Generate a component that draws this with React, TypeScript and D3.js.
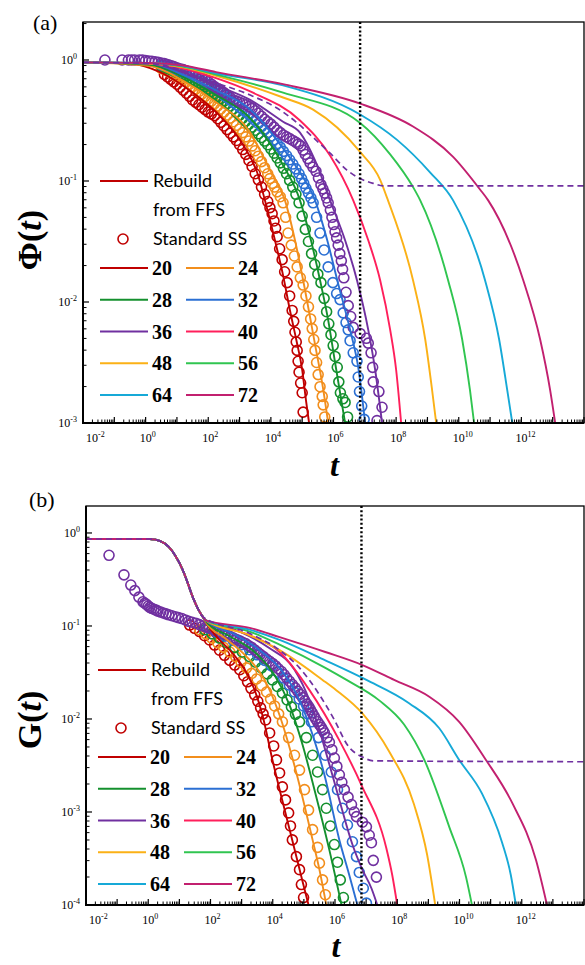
import React from "react";
import * as d3 from "d3";

// every point is [log10 t, log10 value]
type Pt = [number, number];

const SIZES = ["20", "24", "28", "32", "36", "40", "48", "56", "64", "72"];
const COLORS = ["#c00000", "#f28e1c", "#14902e", "#2b6fd3", "#7030a0", "#ff1f5b", "#fbb116", "#30c550", "#16a9d7", "#c2206f"];
const T_MARK = 6.85; // dotted vertical line, log10 t

// ---- panel (a): Phi(t), rebuilt from FFS ----
const phi20: Pt[] = [[-2, -0.02], [-0.5, -0.03], [0.46, -0.1], [1.51, -0.27], [2.25, -0.43], [3.11, -0.7], [3.59, -0.95], [3.81, -1.16], [4.13, -1.49], [4.39, -1.78], [4.61, -2.07], [4.81, -2.31], [5.0, -2.56], [5.12, -2.81], [5.22, -3.0]];
const phi24: Pt[] = [[-2, -0.02], [0.14, -0.05], [1.19, -0.17], [2.25, -0.35], [3.34, -0.6], [3.97, -0.91], [4.45, -1.16], [4.77, -1.49], [5.03, -1.82], [5.41, -2.35], [5.67, -2.72], [5.83, -3.0]];
const phi28: Pt[] = [[-2, -0.02], [0.14, -0.04], [1.19, -0.14], [2.25, -0.29], [3.34, -0.48], [4.39, -0.87], [4.93, -1.16], [5.28, -1.49], [5.57, -1.82], [5.83, -2.15], [6.05, -2.5], [6.21, -2.75], [6.37, -3.0]];
const phi32: Pt[] = [[-2, -0.02], [0.14, -0.03], [1.19, -0.12], [2.25, -0.25], [3.34, -0.41], [4.39, -0.73], [4.93, -0.93], [5.41, -1.16], [5.8, -1.49], [6.12, -1.82], [6.53, -2.23], [6.79, -2.54], [7.01, -3.0]];
const phi36: Pt[] = [[-2, -0.02], [0.14, -0.03], [1.19, -0.1], [2.25, -0.21], [3.34, -0.33], [4.39, -0.51], [4.93, -0.6], [5.41, -0.83], [5.89, -1.16], [6.37, -1.49], [6.75, -1.82], [7.11, -2.23], [7.33, -2.56], [7.55, -3.0]];
const phi40: Pt[] = [[-2, -0.02], [0.14, -0.03], [1.19, -0.07], [2.25, -0.15], [3.34, -0.26], [4.93, -0.5], [5.89, -0.79], [6.63, -1.16], [7.11, -1.49], [7.49, -1.82], [7.81, -2.23], [8.0, -2.56], [8.16, -3.0]];
const phi48: Pt[] = [[-2, -0.02], [0.14, -0.03], [1.19, -0.06], [2.25, -0.13], [4.39, -0.31], [5.35, -0.41], [6.85, -0.76], [7.49, -0.99], [7.74, -1.16], [8.54, -1.82], [8.93, -2.31], [9.15, -2.73], [9.28, -3.0]];
const phi56: Pt[] = [[-2, -0.02], [0.14, -0.025], [1.19, -0.055], [2.25, -0.12], [4.39, -0.27], [6.85, -0.52], [7.81, -0.78], [8.54, -1.05], [8.77, -1.16], [9.66, -1.82], [10.11, -2.31], [10.36, -2.73], [10.49, -3.0]];
const phi64: Pt[] = [[-2, -0.02], [0.14, -0.025], [1.19, -0.05], [2.25, -0.11], [4.39, -0.21], [6.85, -0.45], [8.03, -0.66], [9.09, -0.93], [9.82, -1.16], [10.84, -1.82], [11.29, -2.31], [11.55, -2.73], [11.71, -3.0]];
const phi72: Pt[] = [[-2, -0.02], [0.14, -0.025], [1.19, -0.045], [2.25, -0.1], [4.39, -0.2], [6.85, -0.36], [8.54, -0.55], [9.82, -0.8], [10.68, -1.07], [10.94, -1.16], [12.06, -1.82], [12.6, -2.31], [12.92, -2.73], [13.08, -3.0]];
const phiDashed: Pt[] = [[-2, -0.02], [0.14, -0.03], [2.25, -0.19], [3.34, -0.29], [4.39, -0.43], [4.84, -0.52], [5.35, -0.64], [5.89, -0.77], [6.43, -0.91], [6.85, -0.98], [7.27, -1.02], [7.58, -1.04], [14, -1.04]];

// ---- panel (a): standard SS (open circles) ----
const phiSS20: Pt[] = [[0.6, -0.12], [0.7, -0.14], [0.8, -0.16], [0.9, -0.18], [1.0, -0.2], [1.1, -0.225], [1.2, -0.25], [1.3, -0.275], [1.4, -0.3], [1.5, -0.33], [1.6, -0.35], [1.7, -0.37], [1.8, -0.39], [1.9, -0.41], [2.0, -0.43], [2.1, -0.445], [2.2, -0.46], [2.3, -0.485], [2.4, -0.515], [2.5, -0.545], [2.6, -0.575], [2.7, -0.605], [2.8, -0.635], [2.9, -0.665], [3.0, -0.7], [3.1, -0.74], [3.2, -0.78], [3.3, -0.83], [3.4, -0.88], [3.5, -0.94], [3.6, -0.99], [3.7, -1.05], [3.8, -1.11], [3.9, -1.17], [3.97, -1.22], [4.04, -1.27], [4.1, -1.33], [4.15, -1.39], [4.2, -1.46], [4.28, -1.56], [4.36, -1.65], [4.44, -1.75], [4.52, -1.84], [4.6, -1.95], [4.68, -2.07], [4.73, -2.16], [4.77, -2.25], [4.81, -2.33], [4.84, -2.4], [4.87, -2.49], [4.9, -2.58], [4.95, -2.67], [5.0, -2.75], [5.03, -2.91]];
const phiSS24: Pt[] = [[0.5, -0.07], [0.6, -0.08], [0.7, -0.09], [0.8, -0.105], [0.9, -0.12], [1.0, -0.135], [1.1, -0.15], [1.2, -0.165], [1.3, -0.18], [1.4, -0.2], [1.5, -0.22], [1.6, -0.24], [1.7, -0.26], [1.8, -0.28], [1.9, -0.3], [2.0, -0.32], [2.1, -0.34], [2.2, -0.36], [2.3, -0.38], [2.4, -0.405], [2.5, -0.43], [2.6, -0.455], [2.7, -0.48], [2.8, -0.51], [2.9, -0.54], [3.0, -0.57], [3.1, -0.6], [3.2, -0.635], [3.3, -0.67], [3.4, -0.71], [3.5, -0.75], [3.6, -0.795], [3.7, -0.84], [3.8, -0.89], [3.9, -0.94], [3.97, -0.98], [4.05, -1.02], [4.12, -1.05], [4.2, -1.09], [4.3, -1.13], [4.39, -1.18], [4.47, -1.3], [4.55, -1.43], [4.65, -1.53], [4.75, -1.62], [4.84, -1.71], [4.94, -1.8], [5.03, -1.86], [5.12, -1.95], [5.2, -2.04], [5.27, -2.14], [5.32, -2.22], [5.37, -2.31], [5.41, -2.4], [5.46, -2.5], [5.51, -2.6], [5.57, -2.7], [5.64, -2.78], [5.67, -2.85], [5.72, -2.95]];
const phiSS28: Pt[] = [[0.5, -0.05], [0.6, -0.06], [0.7, -0.07], [0.8, -0.08], [0.9, -0.09], [1.0, -0.1], [1.1, -0.11], [1.2, -0.12], [1.3, -0.13], [1.4, -0.145], [1.5, -0.16], [1.6, -0.175], [1.7, -0.19], [1.8, -0.205], [1.9, -0.22], [2.0, -0.24], [2.1, -0.26], [2.2, -0.28], [2.3, -0.3], [2.4, -0.32], [2.5, -0.34], [2.6, -0.36], [2.7, -0.38], [2.8, -0.405], [2.9, -0.43], [3.0, -0.455], [3.1, -0.48], [3.2, -0.505], [3.3, -0.53], [3.4, -0.555], [3.5, -0.58], [3.6, -0.61], [3.7, -0.64], [3.8, -0.67], [3.9, -0.7], [4.0, -0.735], [4.1, -0.77], [4.2, -0.81], [4.3, -0.85], [4.4, -0.895], [4.5, -0.94], [4.6, -0.995], [4.7, -1.05], [4.8, -1.11], [4.9, -1.18], [5.0, -1.29], [5.1, -1.4], [5.2, -1.5], [5.3, -1.6], [5.4, -1.69], [5.5, -1.77], [5.6, -1.84], [5.7, -1.97], [5.78, -2.08], [5.85, -2.18], [5.92, -2.27], [5.99, -2.36], [6.05, -2.45], [6.12, -2.54], [6.17, -2.66], [6.22, -2.75], [6.3, -2.8], [6.37, -2.83], [6.45, -2.95]];
const phiSS32: Pt[] = [[0.5, -0.04], [0.6, -0.045], [0.7, -0.05], [0.8, -0.06], [0.9, -0.07], [1.0, -0.08], [1.1, -0.09], [1.2, -0.1], [1.3, -0.11], [1.4, -0.12], [1.5, -0.13], [1.6, -0.145], [1.7, -0.16], [1.8, -0.175], [1.9, -0.19], [2.0, -0.205], [2.1, -0.22], [2.2, -0.235], [2.3, -0.25], [2.4, -0.27], [2.5, -0.29], [2.6, -0.31], [2.7, -0.33], [2.8, -0.35], [2.9, -0.37], [3.0, -0.39], [3.1, -0.41], [3.2, -0.43], [3.3, -0.45], [3.4, -0.475], [3.5, -0.5], [3.6, -0.525], [3.7, -0.55], [3.8, -0.575], [3.9, -0.6], [4.0, -0.63], [4.1, -0.66], [4.2, -0.69], [4.3, -0.72], [4.4, -0.755], [4.5, -0.79], [4.6, -0.825], [4.7, -0.86], [4.8, -0.9], [4.9, -0.94], [4.98, -0.98], [5.05, -1.02], [5.12, -1.06], [5.2, -1.1], [5.28, -1.14], [5.35, -1.18], [5.46, -1.3], [5.57, -1.43], [5.7, -1.57], [5.83, -1.71], [5.98, -1.84], [6.1, -1.93], [6.21, -1.98], [6.31, -2.09], [6.4, -2.17], [6.47, -2.23], [6.53, -2.32], [6.63, -2.42], [6.75, -2.49], [6.79, -2.62], [6.83, -2.74], [6.9, -2.86], [6.98, -2.97]];
const phiSS36: Pt[] = [[-1.3, 0], [-0.75, 0], [-0.55, 0], [-0.45, 0], [-0.35, 0], [-0.2, 0], [-0.1, 0], [0, -0.005], [0.1, -0.008], [0.2, -0.01], [0.3, -0.015], [0.4, -0.02], [0.5, -0.025], [0.6, -0.03], [0.7, -0.037], [0.8, -0.045], [0.9, -0.055], [1.0, -0.065], [1.1, -0.072], [1.2, -0.08], [1.3, -0.09], [1.4, -0.1], [1.5, -0.11], [1.6, -0.12], [1.7, -0.135], [1.8, -0.15], [1.9, -0.165], [2.0, -0.18], [2.1, -0.2], [2.2, -0.22], [2.3, -0.235], [2.4, -0.25], [2.5, -0.27], [2.6, -0.29], [2.7, -0.31], [2.8, -0.33], [2.9, -0.34], [3.0, -0.35], [3.1, -0.36], [3.2, -0.37], [3.3, -0.385], [3.4, -0.4], [3.5, -0.42], [3.6, -0.44], [3.7, -0.465], [3.8, -0.49], [3.9, -0.51], [4.0, -0.53], [4.1, -0.555], [4.2, -0.58], [4.3, -0.6], [4.4, -0.62], [4.5, -0.635], [4.6, -0.65], [4.7, -0.665], [4.8, -0.68], [4.88, -0.695], [4.95, -0.71], [5.03, -0.745], [5.1, -0.78], [5.18, -0.815], [5.25, -0.85], [5.34, -0.885], [5.44, -0.92], [5.52, -0.975], [5.6, -1.03], [5.66, -1.065], [5.72, -1.1], [5.78, -1.14], [5.83, -1.18], [5.9, -1.24], [5.95, -1.3], [6.0, -1.36], [6.05, -1.42], [6.1, -1.47], [6.15, -1.53], [6.2, -1.6], [6.25, -1.66], [6.29, -1.73], [6.33, -1.8], [6.4, -1.92], [6.47, -2.03], [6.55, -2.12], [6.63, -2.21], [6.85, -2.26], [7.05, -2.3], [7.11, -2.34], [7.2, -2.42], [7.25, -2.54], [7.27, -2.66], [7.45, -2.74], [7.55, -2.87], [7.39, -2.98]];

// ---- panel (b): G(t), rebuilt from FFS (all sizes share the early drop) ----
const gEarly: Pt[] = [[-2, -0.065], [0.05, -0.065], [0.37, -0.086], [0.66, -0.15], [0.88, -0.25], [1.11, -0.4], [1.27, -0.54], [1.43, -0.69], [1.59, -0.81], [1.75, -0.9]];
const g20: Pt[] = [[1.97, -1.02], [2.29, -1.15], [2.62, -1.26], [3.1, -1.47], [3.42, -1.69], [3.67, -1.96], [3.99, -2.44], [4.31, -2.88], [4.7, -3.4], [4.96, -3.75], [5.15, -4.0]];
const g24: Pt[] = [[1.85, -0.96], [2.46, -1.13], [3.1, -1.31], [3.74, -1.58], [4.22, -1.96], [4.76, -2.58], [5.28, -3.3], [5.5, -3.62], [5.72, -4.0]];
const g28: Pt[] = [[1.85, -0.95], [2.62, -1.11], [3.42, -1.28], [4.06, -1.53], [4.54, -1.85], [4.96, -2.28], [5.34, -2.76], [5.82, -3.41], [6.21, -4.0]];
const g32: Pt[] = [[1.85, -0.94], [2.78, -1.09], [3.58, -1.26], [4.31, -1.49], [4.86, -1.8], [5.28, -2.17], [5.66, -2.6], [6.14, -3.3], [6.46, -3.68], [6.72, -4.0]];
const g36: Pt[] = [[1.85, -0.94], [2.94, -1.06], [3.9, -1.24], [4.7, -1.47], [5.18, -1.8], [5.5, -2.12], [5.82, -2.49], [6.14, -2.87], [6.56, -3.35], [6.88, -3.62], [7.17, -3.82], [7.36, -4.0]];
const g40: Pt[] = [[1.85, -0.94], [2.5, -1.02], [3.26, -1.1], [4.22, -1.28], [5.18, -1.69], [6.14, -2.23], [6.85, -2.71], [7.65, -3.39], [7.84, -3.68], [8.0, -4.0]];
const g48: Pt[] = [[1.85, -0.94], [3.26, -1.1], [4.22, -1.26], [5.6, -1.58], [6.04, -1.69], [6.88, -1.94], [7.74, -2.35], [8.54, -2.92], [8.96, -3.46], [9.22, -4.0]];
const g56: Pt[] = [[1.85, -0.94], [3.26, -1.06], [4.22, -1.2], [5.69, -1.45], [6.37, -1.58], [7.42, -1.8], [8.22, -2.06], [8.87, -2.44], [9.67, -3.16], [10.21, -3.7], [10.4, -4.0]];
const g64: Pt[] = [[1.85, -0.94], [3.26, -1.04], [4.22, -1.15], [5.69, -1.37], [7.01, -1.58], [8.38, -1.83], [9.35, -2.1], [9.99, -2.44], [10.72, -2.8], [11.37, -3.33], [11.65, -3.68], [11.81, -4.0]];
const g72: Pt[] = [[1.85, -0.94], [3.26, -1.02], [4.22, -1.12], [5.69, -1.28], [6.88, -1.42], [7.9, -1.58], [9.03, -1.76], [9.99, -2.03], [10.85, -2.44], [11.69, -2.9], [12.46, -3.52], [12.81, -4.0]];
const gDashedTail: Pt[] = [[3.26, -1.08], [4.22, -1.26], [4.86, -1.45], [5.5, -1.74], [5.98, -2.01], [6.4, -2.28], [6.88, -2.41], [7.26, -2.45], [14, -2.46]];

// ---- panel (b): standard SS ----
const gSS20: Pt[] = [[1.33, -0.99], [1.49, -1.025], [1.65, -1.06], [1.81, -1.105], [1.97, -1.15], [2.13, -1.205], [2.29, -1.26], [2.45, -1.315], [2.62, -1.37], [2.78, -1.42], [2.94, -1.47], [3.07, -1.535], [3.19, -1.6], [3.3, -1.67], [3.42, -1.74], [3.52, -1.81], [3.61, -1.88], [3.69, -1.945], [3.77, -2.01], [3.9, -2.15], [4.03, -2.29], [4.12, -2.44], [4.22, -2.58], [4.31, -2.73], [4.41, -2.87], [4.51, -3.01], [4.57, -3.15], [4.63, -3.3], [4.76, -3.48], [4.86, -3.62], [4.92, -3.78], [4.99, -3.92]];
const gSS24: Pt[] = [[1.65, -1.04], [1.85, -1.085], [2.04, -1.13], [2.23, -1.18], [2.42, -1.23], [2.62, -1.28], [2.81, -1.33], [2.98, -1.39], [3.16, -1.45], [3.32, -1.51], [3.48, -1.57], [3.64, -1.64], [3.8, -1.71], [3.93, -1.785], [4.06, -1.86], [4.19, -1.945], [4.31, -2.03], [4.51, -2.2], [4.7, -2.39], [4.86, -2.55], [5.02, -2.76], [5.15, -2.98], [5.28, -3.19], [5.44, -3.38], [5.5, -3.55], [5.6, -3.73], [5.69, -3.89]];
const gSS28: Pt[] = [[1.81, -1.04], [2.05, -1.085], [2.29, -1.13], [2.53, -1.18], [2.78, -1.23], [3.02, -1.28], [3.26, -1.33], [3.45, -1.39], [3.64, -1.45], [3.82, -1.515], [3.99, -1.58], [4.15, -1.65], [4.31, -1.72], [4.46, -1.795], [4.6, -1.87], [4.73, -1.95], [4.86, -2.03], [5.08, -2.2], [5.28, -2.39], [5.44, -2.57], [5.6, -2.76], [5.72, -2.96], [5.85, -3.15], [5.98, -3.35], [6.08, -3.54], [6.17, -3.73], [6.27, -3.92]];
const gSS32: Pt[] = [[1.91, -1.02], [2.18, -1.065], [2.46, -1.11], [2.73, -1.155], [3.0, -1.2], [3.26, -1.255], [3.51, -1.31], [3.74, -1.37], [3.96, -1.43], [4.16, -1.495], [4.35, -1.56], [4.53, -1.635], [4.7, -1.71], [4.85, -1.785], [4.99, -1.86], [5.12, -1.945], [5.24, -2.03], [5.47, -2.2], [5.69, -2.39], [5.88, -2.57], [6.08, -2.76], [6.24, -2.96], [6.4, -3.14], [6.56, -3.32], [6.69, -3.48], [6.78, -3.65], [6.91, -3.82], [7.01, -3.98]];
const gSS36: Pt[] = [[-1.26, -0.24], [-0.78, -0.45], [-0.56, -0.56], [-0.43, -0.62], [-0.3, -0.69], [-0.17, -0.74], [-0.11, -0.755], [-0.05, -0.77], [0.0, -0.785], [0.05, -0.8], [0.11, -0.81], [0.18, -0.82], [0.25, -0.83], [0.31, -0.84], [0.4, -0.85], [0.48, -0.86], [0.57, -0.87], [0.66, -0.88], [0.76, -0.89], [0.87, -0.9], [0.97, -0.91], [1.08, -0.92], [1.19, -0.935], [1.3, -0.95], [1.41, -0.96], [1.53, -0.97], [1.64, -0.985], [1.75, -1.0], [1.86, -1.01], [1.97, -1.02], [2.06, -1.035], [2.16, -1.05], [2.26, -1.065], [2.36, -1.08], [2.45, -1.09], [2.55, -1.1], [2.64, -1.115], [2.74, -1.13], [2.84, -1.145], [2.94, -1.16], [3.03, -1.175], [3.13, -1.19], [3.22, -1.21], [3.32, -1.23], [3.41, -1.255], [3.51, -1.28], [3.6, -1.305], [3.7, -1.33], [3.8, -1.355], [3.9, -1.38], [4.0, -1.405], [4.09, -1.43], [4.18, -1.46], [4.28, -1.49], [4.37, -1.525], [4.45, -1.56], [4.54, -1.595], [4.63, -1.63], [4.72, -1.665], [4.8, -1.7], [4.88, -1.735], [4.96, -1.77], [5.03, -1.805], [5.1, -1.84], [5.16, -1.87], [5.21, -1.9], [5.27, -1.935], [5.33, -1.97], [5.38, -2.0], [5.44, -2.03], [5.5, -2.06], [5.56, -2.09], [5.61, -2.12], [5.66, -2.15], [5.75, -2.2], [5.82, -2.25], [5.9, -2.33], [5.98, -2.42], [6.06, -2.51], [6.14, -2.6], [6.22, -2.68], [6.3, -2.76], [6.42, -2.84], [6.53, -2.92], [6.62, -3.0], [6.69, -3.05], [6.88, -3.11], [7.01, -3.16], [7.1, -3.25], [7.17, -3.33], [7.23, -3.52], [7.33, -3.7]];

const SERIF = "'Liberation Serif', 'Times New Roman', serif";
const SANS = "Lato, 'Open Sans', sans-serif";

type PanelProps = {
  id: string;
  l: number; t: number; r: number; b: number;
  yMinExp: number; yMaxExp: number;
  lines: Pt[][]; dashed: Pt[]; circles: Pt[][];
  legendX: number; legendY: number;
  tag: string; tagX: number; tagY: number;
  yName: string; yTitleY: number; xTitleY: number;
};

function Panel(p: PanelProps) {
  const x = d3.scaleLog().domain([1e-2, 1e14]).range([p.l, p.r]);
  const y = d3.scaleLog().domain([10 ** p.yMinExp, 10 ** p.yMaxExp]).range([p.b, p.t]);
  const line = d3.line<Pt>()
    .x(d => x(10 ** d[0]))
    .y(d => y(10 ** d[1]))
    .curve(d3.curveMonotoneX);

  const xMajors = d3.range(-2, 15);
  const xMinors: number[] = [];
  xMajors.forEach(e => { if (e < 14) for (let k = 2; k < 10; k++) xMinors.push(k * 10 ** e); });
  const yMajors = d3.range(p.yMinExp, 1);
  const yMinors: number[] = [];
  yMajors.forEach(e => { for (let k = 2; k < 10; k++) if (k * 10 ** e < 10 ** p.yMaxExp) yMinors.push(k * 10 ** e); });

  const clip = "clip-" + p.id;

  return (
    <g>
      <defs>
        <clipPath id={clip}>
          <rect x={p.l} y={p.t} width={p.r - p.l} height={p.b - p.t} />
        </clipPath>
      </defs>

      <g clipPath={`url(#${clip})`}>
        {/* standard SS circles */}
        {p.circles.map((s, i) => (
          <g key={"c" + i} fill="none" stroke={COLORS[i]} strokeWidth={1.6}>
            {s.map((d, j) => (
              <circle key={j} cx={x(10 ** d[0])} cy={y(10 ** d[1])} r={5} />
            ))}
          </g>
        ))}
        {/* rebuilt curves */}
        {p.lines.map((s, i) => (
          <path key={"l" + i} d={line(s) || ""} fill="none" stroke={COLORS[i]} strokeWidth={1.9} />
        ))}
        <path d={line(p.dashed) || ""} fill="none" stroke={COLORS[4]} strokeWidth={1.7} strokeDasharray="6,4" />
        <line x1={x(10 ** T_MARK)} x2={x(10 ** T_MARK)} y1={p.t} y2={p.b}
          stroke="#000" strokeWidth={2.4} strokeDasharray="2,2.2" />
      </g>

      {/* frame */}
      <rect x={p.l} y={p.t} width={p.r - p.l} height={p.b - p.t} fill="none" stroke="#000" strokeWidth={1.3} />
      <line x1={p.l} x2={p.l} y1={p.t} y2={p.b + 1} stroke="#000" strokeWidth={2} />
      <line x1={p.l - 1} x2={p.r} y1={p.b} y2={p.b} stroke="#000" strokeWidth={2} />

      {/* x ticks */}
      {xMajors.map(e => (
        <line key={"xm" + e} x1={x(10 ** e)} x2={x(10 ** e)} y1={p.b} y2={p.b - 6} stroke="#000" strokeWidth={1.2} />
      ))}
      {xMinors.map((v, i) => (
        <line key={"xn" + i} x1={x(v)} x2={x(v)} y1={p.b} y2={p.b - 3.5} stroke="#000" strokeWidth={1} />
      ))}
      {xMajors.filter(e => e % 2 === 0 && e <= 12).map(e => (
        <text key={"xl" + e} x={e === -2 ? x(10 ** e) + 3 : x(10 ** e) - 6} y={p.b + 19} fontFamily={SERIF} fontSize={12}>
          10<tspan fontSize={8} dy={-5}>{e}</tspan>
        </text>
      ))}

      {/* y ticks */}
      {yMajors.map(e => (
        <line key={"ym" + e} x1={p.l} x2={p.l + 6} y1={y(10 ** e)} y2={y(10 ** e)} stroke="#000" strokeWidth={1.2} />
      ))}
      {yMinors.map((v, i) => (
        <line key={"yn" + i} x1={p.l} x2={p.l + 3.5} y1={y(v)} y2={y(v)} stroke="#000" strokeWidth={1} />
      ))}
      {yMajors.map(e => (
        <text key={"yl" + e} x={p.l - 6} y={y(10 ** e) + 4} textAnchor="end" fontFamily={SERIF} fontSize={12}>
          10<tspan fontSize={8} dy={-5}>{e}</tspan>
        </text>
      ))}

      {/* titles */}
      <text x={p.tagX} y={p.tagY} fontFamily={SERIF} fontSize={22}>{p.tag}</text>
      <text transform={`translate(41,${p.yTitleY}) rotate(-90)`} textAnchor="middle"
        fontFamily={SERIF} fontWeight="bold" fontSize={34}>
        {p.yName}(<tspan fontStyle="italic">t</tspan>)
      </text>
      <text x={(p.l + p.r) / 2 + 1} y={p.xTitleY} textAnchor="middle" fontFamily={SERIF}
        fontWeight="bold" fontStyle="italic" fontSize={32}>t</text>

      {/* legend */}
      <g>
        <line x1={p.legendX} x2={p.legendX + 48} y1={p.legendY} y2={p.legendY} stroke={COLORS[0]} strokeWidth={2.2} />
        <text x={p.legendX + 53} y={p.legendY + 6} fontFamily={SANS} fontSize={18}>Rebuild</text>
        <text x={p.legendX + 53} y={p.legendY + 35} fontFamily={SANS} fontSize={18}>from FFS</text>
        <circle cx={p.legendX + 23} cy={p.legendY + 58} r={5} fill="none" stroke={COLORS[0]} strokeWidth={1.6} />
        <text x={p.legendX + 53} y={p.legendY + 64} fontFamily={SANS} fontSize={18}>Standard SS</text>
        {SIZES.map((s, i) => {
          const lx = p.legendX + (i % 2) * 86;
          const ly = p.legendY + 87 + Math.floor(i / 2) * 31.75;
          return (
            <g key={"lg" + s}>
              <line x1={lx} x2={lx + 48} y1={ly} y2={ly} stroke={COLORS[i]} strokeWidth={2.2} />
              <text x={lx + 52} y={ly + 7} fontFamily={SERIF} fontWeight="bold" fontSize={20}>{s}</text>
            </g>
          );
        })}
      </g>
    </g>
  );
}

export default function App() {
  const phiLines = [phi20, phi24, phi28, phi32, phi36, phi40, phi48, phi56, phi64, phi72];
  const phiCircles = [phiSS20, phiSS24, phiSS28, phiSS32, phiSS36];
  const gLines = [g20, g24, g28, g32, g36, g40, g48, g56, g64, g72].map(s => gEarly.concat(s));
  const gDashed = gEarly.concat(gDashedTail);
  const gCircles = [gSS20, gSS24, gSS28, gSS32, gSS36];

  return (
    <svg width={585} height={965} style={{ position: "absolute", left: 0, top: 0, background: "#fff" }}>
      <Panel id="a" l={83} t={22} r={584} b={423} yMinExp={-3} yMaxExp={0.314}
        lines={phiLines} dashed={phiDashed} circles={phiCircles}
        legendX={100} legendY={181} tag="(a)" tagX={33} tagY={30}
        yName="Φ" yTitleY={240} xTitleY={476} />
      <Panel id="b" l={86} t={506} r={584} b={905} yMinExp={-4} yMaxExp={0.29}
        lines={gLines} dashed={gDashed} circles={gCircles}
        legendX={98} legendY={670} tag="(b)" tagX={29} tagY={507}
        yName="G" yTitleY={720} xTitleY={957} />
    </svg>
  );
}
